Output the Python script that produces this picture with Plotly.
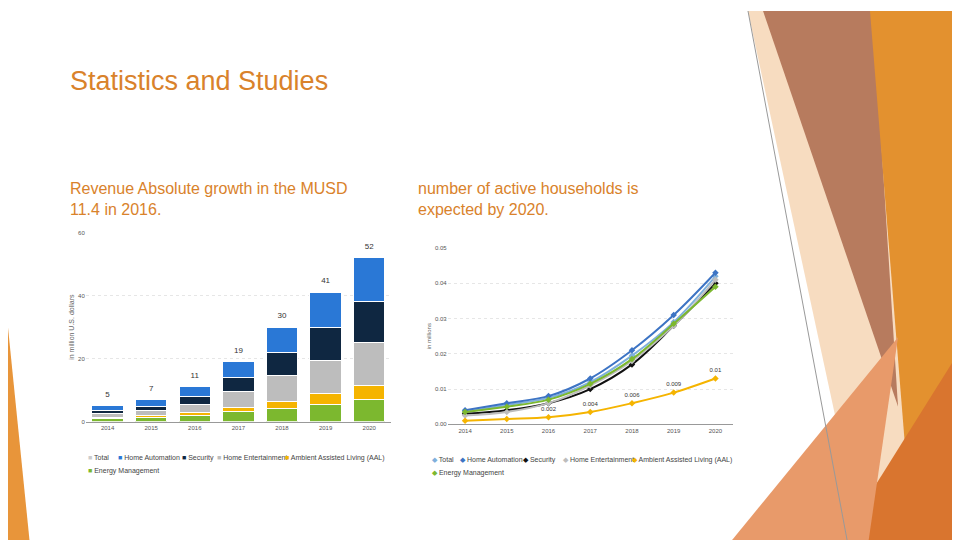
import plotly.graph_objects as go

years = ["2014", "2015", "2016", "2017", "2018", "2019", "2020"]
# Revenue (million USD), stacked segments
energy_rev = [1.0, 1.4, 2.0, 3.3, 4.3, 5.5, 7.0]
aal_rev = [0.3, 0.5, 0.8, 1.2, 2.2, 3.5, 4.5]
homeent_rev = [1.2, 1.6, 2.6, 5.0, 8.0, 10.5, 13.5]
security_rev = [1.0, 1.4, 2.5, 4.5, 7.5, 10.5, 13.0]
homeauto_rev = [1.5, 2.1, 3.1, 5.0, 8.0, 11.0, 14.0]
total_labels = ["5", "7", "11", "19", "30", "41", "52"]

# Active households (millions)
hh_total = [0.0035, 0.0055, 0.0075, 0.012, 0.0195, 0.029, 0.042]
hh_homeauto = [0.004, 0.006, 0.008, 0.013, 0.021, 0.031, 0.043]
hh_security = [0.003, 0.004, 0.006, 0.010, 0.017, 0.028, 0.040]
hh_homeent = [0.0025, 0.0035, 0.006, 0.011, 0.018, 0.028, 0.041]
hh_aal = [0.001, 0.0015, 0.002, 0.0035, 0.006, 0.009, 0.013]
hh_energy = [0.0035, 0.005, 0.007, 0.0115, 0.0185, 0.0285, 0.039]
aal_labels = ["", "", "0.002", "0.004", "0.006", "0.009", "0.01"]

fig = go.Figure()

def P(pts):
    return "M " + " L ".join(f"{x/960:.4f},{1-y/540:.4f}" for x, y in pts) + " Z"

deco = [
    ([(740, 0), (960, 0), (960, 540), (855, 540)], "#f7dcc0"),
    ([(755, 0), (865, 0), (890, 400)], "#b77b5e"),
    ([(862, 0), (960, 0), (960, 540), (905, 540)], "#e3912f"),
    ([(830, 540), (960, 330), (960, 540)], "#d9752f"),
    ([(720, 540), (890, 330), (860, 540)], "#e89a6a"),
    ([(0, 320), (22, 540), (0, 540)], "#e8953a"),
]
shapes = [dict(type="path", xref="paper", yref="paper", path=P(p), fillcolor=c,
               line=dict(width=0), layer="below") for p, c in deco]
shapes.append(dict(type="line", xref="paper", yref="paper", x0=740/960, y0=1, x1=840/960, y1=0,
                   line=dict(color="#999999", width=1)))

segs = [("Energy Management", energy_rev, "#7cb82f"),
        ("Ambient Assisted Living (AAL)", aal_rev, "#f5b400"),
        ("Home Entertainment", homeent_rev, "#bdbdbd"),
        ("Security", security_rev, "#0f2741"),
        ("Home Automation", homeauto_rev, "#2a78d6")]
for n, v, c in segs:
    fig.add_trace(go.Bar(x=years, y=v, name=n, marker=dict(color=c, line=dict(color="white", width=1)),
                         xaxis="x", yaxis="y", showlegend=False))
tops = [sum(s) for s in zip(*[s[1] for s in segs])]
fig.add_trace(go.Scatter(x=years, y=[t + 3.5 for t in tops], text=total_labels, mode="text",
                         textfont=dict(size=8, color="#333"), xaxis="x", yaxis="y", showlegend=False))

lines = [("Total", hh_total, "#7fb0dc"), ("Home Automation", hh_homeauto, "#3d74c4"),
         ("Security", hh_security, "#111111"), ("Home Entertainment", hh_homeent, "#bdbdbd"),
         ("Ambient Assisted Living (AAL)", hh_aal, "#f5b400"), ("Energy Management", hh_energy, "#7cb82f")]
for n, v, c in lines:
    fig.add_trace(go.Scatter(x=years, y=v, name=n, mode="lines+markers", line=dict(color=c, width=2, shape="spline"),
                             marker=dict(symbol="diamond", size=5, color=c),
                             xaxis="x2", yaxis="y2", showlegend=False))
fig.add_trace(go.Scatter(x=years, y=[a + 0.0022 for a in hh_aal], text=aal_labels, mode="text",
                         textfont=dict(size=6, color="#333"), xaxis="x2", yaxis="y2", showlegend=False))

annotations = [
    dict(text="Statistics and Studies", x=60/960, y=1-71/540, xref="paper", yref="paper",
         xanchor="left", yanchor="middle", showarrow=False, font=dict(size=27, color="#d9822b")),
    dict(text="Revenue Absolute growth in the MUSD<br>11.4 in 2016.", x=60/960, y=1-190/540,
         xref="paper", yref="paper", xanchor="left", yanchor="middle", align="left",
         showarrow=False, font=dict(size=16, color="#d9822b")),
    dict(text="number of active households is<br>expected by 2020.", x=408/960, y=1-190/540,
         xref="paper", yref="paper", xanchor="left", yanchor="middle", align="left",
         showarrow=False, font=dict(size=16, color="#d9822b")),
]
# manual legends
left_items = [("Total", "#cccccc", 78, 452), ("Home Automation", "#2a78d6", 108, 452),
              ("Security", "#0f2741", 172, 452), ("Home Entertainment", "#bdbdbd", 207, 452),
              ("Ambient Assisted Living (AAL)", "#f5b400", 275, 452), ("Energy Management", "#7cb82f", 78, 465)]
for t, c, x, y in left_items:
    annotations.append(dict(text=f"<span style='color:{c}'>■</span> {t}", x=x/960, y=1-y/540,
                            xref="paper", yref="paper", xanchor="left", yanchor="middle",
                            showarrow=False, font=dict(size=7, color="#444")))
right_items = [("Total", "#7fb0dc", 422, 454), ("Home Automation", "#3d74c4", 450, 454),
               ("Security", "#111111", 513, 454), ("Home Entertainment", "#bdbdbd", 553, 454),
               ("Ambient Assisted Living (AAL)", "#f5b400", 622, 454), ("Energy Management", "#7cb82f", 422, 467)]
for t, c, x, y in right_items:
    annotations.append(dict(text=f"<span style='color:{c}'>◆</span> {t}", x=x/960, y=1-y/540,
                            xref="paper", yref="paper", xanchor="left", yanchor="middle",
                            showarrow=False, font=dict(size=7, color="#444")))

ax = dict(showgrid=False, showline=True, linecolor="#999", tickfont=dict(size=6, color="#555"), fixedrange=True)
fig.update_layout(
    width=960, height=540, margin=dict(l=0, r=0, t=0, b=0), showlegend=False,
    paper_bgcolor="white", plot_bgcolor="white", barmode="stack", bargap=0.28,
    font=dict(family="Liberation Sans"),
    shapes=shapes, annotations=annotations,
    xaxis=dict(ax, domain=[0.081, 0.399], anchor="y"),
    yaxis=dict(domain=[0.231, 0.585], range=[0, 60], tickvals=[0, 20, 40, 60], showgrid=True,
               gridcolor="#e6e6e6", griddash="dot", tickfont=dict(size=6, color="#555"), zeroline=False,
               title=dict(text="in million U.S. dollars", font=dict(size=7, color="#666"), standoff=2), anchor="x"),
    xaxis2=dict(ax, domain=[0.458, 0.755], anchor="y2"),
    yaxis2=dict(domain=[0.226, 0.556], range=[0, 0.05], tickvals=[0, 0.01, 0.02, 0.03, 0.04, 0.05],
                tickformat=".2f", showgrid=True, gridcolor="#e6e6e6", griddash="dot",
                tickfont=dict(size=6, color="#555"), zeroline=False,
                title=dict(text="in millions", font=dict(size=6, color="#666"), standoff=2), anchor="x2"),
)
fig.write_html("out.html")
